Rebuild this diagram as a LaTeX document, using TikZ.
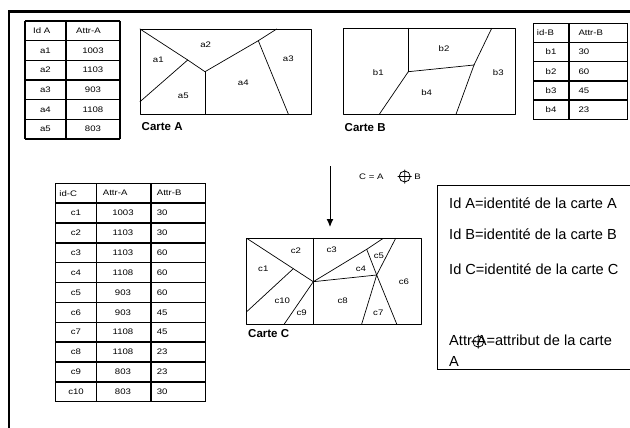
\documentclass[tikz,border=0pt]{standalone}
\usepackage{fontspec}
\setmainfont{Liberation Sans}
\newfontfamily\tabfont[FakeStretch=1.2]{Liberation Sans}
\usepackage{tkz-euclide}
\usetikzlibrary{arrows.meta,calc}

\tikzset{
  tabline/.style={line width=1.4pt},
  celltxt/.style={font=\tabfont\fontsize{8}{9}\selectfont,inner sep=0pt},
  titletxt/.style={font=\bfseries\fontsize{11.5}{12}\selectfont,anchor=west,inner sep=0pt},
  legtxt/.style={font=\fontsize{14.6}{17}\selectfont,anchor=base west,inner sep=0pt},
  oplus/.pic={\draw[line width=0.8pt] (0,0) circle (5.5pt) (-7pt,0) -- (7pt,0) (0,-7pt) -- (0,7pt);}
}

\begin{document}
\begin{tikzpicture}[x=1pt,y=-1pt]
\useasboundingbox (0,0) rectangle (630,428);
\tkzSetUpLine[line width=0.7pt,color=black]

% page frame
\draw[line width=2.2pt] (9,428) -- (9,11.5) -- (630,11.5);

% table A
\foreach \k in {0,...,6} \draw[tabline] (25,{21+\k*19.67}) -- (120,{21+\k*19.67});
\foreach \xx in {25,66,120} \draw[tabline] (\xx,21) -- (\xx,139);
\node[celltxt,anchor=west] (hIdA) at (33,30.8) {Id A};
\node[celltxt,anchor=west] (hAttrA) at (76,30.8) {Attr-A};
\foreach \id/\val [count=\k] in {a1/1003,a2/1103,a3/903,a4/1108,a5/803}{
  \node[celltxt] (idA\k) at (45.5,{30.8+\k*19.67}) {\id};
  \node[celltxt] (valA\k) at (93,{30.8+\k*19.67}) {\val};
}

% table B
\foreach \k in {0,...,5} \draw[tabline] (533.3,{23.3+\k*19.2}) -- (627.7,{23.3+\k*19.2});
\foreach \xx in {533.3,569,627.7} \draw[tabline] (\xx,23.3) -- (\xx,119.3);
\node[celltxt,anchor=west] (hIdB) at (536.7,32.9) {id-B};
\node[celltxt,anchor=west] (hAttrB) at (578.3,32.9) {Attr-B};
\foreach \id/\val [count=\k] in {b1/30,b2/60,b3/45,b4/23}{
  \node[celltxt] (idB\k) at (551,{32.9+\k*19.2}) {\id};
  \node[celltxt,anchor=west] (valB\k) at (578.3,{32.9+\k*19.2}) {\val};
}

% table C
\foreach \k in {0,...,11} \draw[tabline] (55.7,{183.3+\k*19.85}) -- (205.7,{183.3+\k*19.85});
\foreach \xx in {55.7,96.7,151,205.7} \draw[tabline] (\xx,183.3) -- (\xx,401.7);
\node[celltxt,anchor=west] (hIdC) at (59.3,193.2) {id-C};
\node[celltxt,anchor=west] (hAttrCA) at (102.7,193.2) {Attr-A};
\node[celltxt,anchor=west] (hAttrCB) at (156.7,193.2) {Attr-B};
\foreach \id/\va/\vb [count=\k] in {c1/1003/30,c2/1103/30,c3/1103/60,c4/1108/60,c5/903/60,
    c6/903/45,c7/1108/45,c8/1108/23,c9/803/23,c10/803/30}{
  \node[celltxt] (idC\k) at (76,{193.2+\k*19.85}) {\id};
  \node[celltxt] (valCA\k) at (123,{193.2+\k*19.85}) {\va};
  \node[celltxt,anchor=west] (valCB\k) at (156.7,{193.2+\k*19.85}) {\vb};
}

% carte A
\tkzDefPoints{140/29/A1,311.7/29/A2,311.7/114/A3,140/114/A4,187.7/60/A5,205/71.7/A6,
  258.3/40.7/A7,276.7/29/A8,288.3/114/A9,205/114/A10,140/101.7/A11}
\tkzDrawPolygon(A1,A2,A3,A4)
\tkzDrawSegments(A1,A5 A5,A6 A6,A7 A7,A8 A7,A9 A6,A10 A5,A11)
\node[celltxt] (za1) at (158.3,60) {a1};
\node[celltxt] (za2) at (205.7,45) {a2};
\node[celltxt] (za3) at (288.3,59) {a3};
\node[celltxt] (za4) at (243.3,82.7) {a4};
\node[celltxt] (za5) at (183.3,96) {a5};
\node[titletxt] (tA) at (141.5,126.7) {Carte A};

% carte B
\tkzDefPoints{343.3/28.3/B1,515.7/28.3/B2,515.7/114.3/B3,343.3/114.3/B4,408.3/28.3/B5,
  408.3/71.7/B6,474/65/B7,491.7/28.3/B8,456/114.3/B9,379.3/114.3/B10}
\tkzDrawPolygon(B1,B2,B3,B4)
\tkzDrawSegments(B5,B6 B6,B7 B7,B8 B7,B9 B6,B10)
\node[celltxt] (zb1) at (378.3,72.7) {b1};
\node[celltxt] (zb2) at (444,48.3) {b2};
\node[celltxt] (zb3) at (498.3,72.7) {b3};
\node[celltxt] (zb4) at (426.7,92.7) {b4};
\node[titletxt] (tB) at (344.5,127.5) {Carte B};

% overlay
\coordinate (arrS) at (330,166);
\coordinate (arrE) at (330,227);
\draw[line width=1pt,-{Latex[length=8pt,width=7pt]}] (arrS) -- (arrE);
\node[celltxt,anchor=west] (eqC) at (359,176.5) {C = A\hspace{31pt}B};
\pic at (404.7,176.5) {oplus};

% carte C
\tkzDefPoints{246.7/238.3/C1,421/238.3/C2,421/324/C3,246.7/324/C4,293.3/268.7/C5,
  313.3/281.7/C6,313.3/238.3/C7,313.3/324/C8,366.7/249.3/C9,383.3/238.3/C10,
  376.7/275/C11,395.7/238.3/C12,361.7/324/C13,396.7/324/C14,246.7/311.7/C15,284.3/324/C16}
\tkzDrawPolygon(C1,C2,C3,C4)
\tkzDrawSegments(C1,C6 C5,C15 C7,C8 C6,C9 C9,C10 C6,C11 C9,C11 C11,C12 C11,C13 C11,C14 C6,C16)
\node[celltxt] (zc1) at (263.3,268.3) {c1};
\node[celltxt] (zc2) at (296,251) {c2};
\node[celltxt] (zc3) at (331.7,250) {c3};
\node[celltxt] (zc4) at (361,268.3) {c4};
\node[celltxt] (zc5) at (379,255.7) {c5};
\node[celltxt] (zc6) at (404,281.7) {c6};
\node[celltxt] (zc7) at (378.3,312.3) {c7};
\node[celltxt] (zc8) at (342.7,301) {c8};
\node[celltxt] (zc9) at (301.7,312.3) {c9};
\node[celltxt] (zc10) at (282.3,301) {c10};
\node[titletxt] (tC) at (248,334) {Carte C};

% legend
\draw[line width=0.8pt] (437.3,185.5) rectangle (633,369);
\node[legtxt] (legA) at (449,208.5) {Id A=identité de la carte A};
\node[legtxt] (legB) at (449,239.5) {Id B=identité de la carte B};
\node[legtxt] (legC) at (449,274) {Id C=identité de la carte C};
\node[legtxt] (legAttr) at (449,345) {Attr-A=attribut de la carte};
\node[legtxt] (legAttrEnd) at (449,366) {A};
\pic at (478.3,341.7) {oplus};

\end{tikzpicture}
\end{document}
